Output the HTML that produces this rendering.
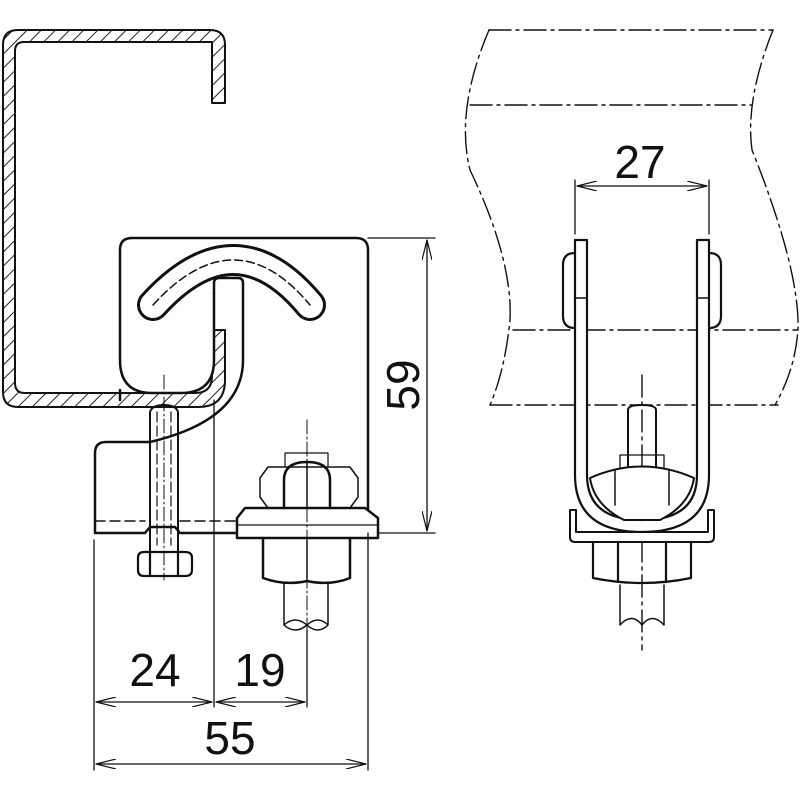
<!DOCTYPE html>
<html><head><style>body{margin:0;background:#fff}svg{display:block}text{font-family:"Liberation Sans",sans-serif;fill:#111}</style></head>
<body>
<svg width="800" height="800" viewBox="0 0 800 800" xmlns="http://www.w3.org/2000/svg">
<defs>
<pattern id="h" width="10" height="10" patternUnits="userSpaceOnUse" patternTransform="rotate(45)"><line x1="0" y1="0" x2="0" y2="10" stroke="#222" stroke-width="2"/></pattern>
<marker id="a" viewBox="0 0 20 10" refX="20" refY="5" markerWidth="20" markerHeight="10" markerUnits="userSpaceOnUse" orient="auto-start-reverse"><path d="M0,0 L20,5 L0,10" fill="none" stroke="#111" stroke-width="1.2"/></marker>
</defs>
<g fill="none" stroke="#111" stroke-linecap="round" stroke-linejoin="round">
<path d="M212,103 V42 Q212,42 200,42 H24 Q15,42 15,51 V383 Q15,393 25,393 H195 Q212,393 212,376 V330 H225 V380 Q225,407 198,407 H18 Q3,407 3,392 V45 Q3,30 18,30 H210 Q225,30 225,45 V103 Z" fill="url(#h)" stroke-width="2"/>
<path d="M214,293 V360 Q214,393 181,393 H152 Q120,393 120,360 V250 Q120,238 132,238 H356 Q368,238 368,250 V533" stroke-width="2.5" fill="#fff"/>
<path d="M120,390 V400" stroke-width="2.5"/>
<path d="M214,293 V283 Q214,278 219,278 H238 Q243,278 243,283 V360 Q243,420 150,442" stroke-width="2.5"/>
<path d="M153,305 Q235,215 310,305" stroke="#111" stroke-width="32"/>
<path d="M153,305 Q235,215 310,305" stroke="#fff" stroke-width="26"/>
<path d="M153,305 Q235,215 310,305" stroke="#111" stroke-width="1.5" stroke-dasharray="8 4"/>
<path d="M150,442 H106 Q95,442 95,453 V533 H145 L150,527 H175 L180,533 H238" stroke-width="2.5"/>
<path d="M95,521 H145 M180,521 H238" stroke-width="1.5" stroke-dasharray="10 5"/>
<path d="M150,412 V552 M178,412 V552 M150,412 Q152,405 164,405 Q176,405 178,412" stroke-width="2"/>
<path d="M157,412 V545 M171,412 V545" stroke-width="1.2" stroke-dasharray="10 4"/>
<path d="M138,558 Q138,552 144,552 H185 Q192,552 192,558 V570 Q192,576 185,576 H144 Q138,576 138,570 Z M150,552 V576 M178,552 V576" stroke-width="2.2"/>
<path d="M164,375 V580" stroke-width="1" stroke-dasharray="14 3 2 3"/>
<path d="M245,508 H365 L378,518 V538 H237 V518 Z" stroke-width="2.5" fill="#fff"/>
<path d="M237,525 H378" stroke-width="1.2"/>
<path d="M263,538 V578 Q285,586 307,581 Q330,586 350,578 V538" stroke-width="2.5"/>
<path d="M307,540 V582" stroke-width="1.5"/>
<path d="M260,478 L268,467 H350 L358,478 V497 L350,508 H268 L260,497 Z" stroke-width="1.5"/>
<path d="M284,508 V480 Q284,462 307,462 Q330,462 330,480 V508" stroke-width="2.5"/>
<path d="M307,462 V508" stroke-width="1.5"/>
<path d="M285,467 V453 H328 V467" stroke-width="1.2"/>
<path d="M284,583 V625 M328,583 V625 M284,625 Q295,615 307,625 Q318,615 328,625 M284,625 Q295,635 307,625 Q318,635 328,625" stroke-width="1.5"/>
<path d="M307,420 V640" stroke-width="1" stroke-dasharray="14 3 2 3"/>
<g stroke-width="1.3">
<path d="M368,238 H435 M378,533 H435"/>
<path d="M427,240 V531" marker-start="url(#a)" marker-end="url(#a)"/>
<path d="M94,540 V770 M214,400 V707 M307,630 V707 M368,533 V770"/>
<path d="M96,702 H212" marker-start="url(#a)" marker-end="url(#a)"/>
<path d="M216,702 H305" marker-start="url(#a)" marker-end="url(#a)"/>
<path d="M96,764 H366" marker-start="url(#a)" marker-end="url(#a)"/>
</g>
<g stroke-width="1.4" stroke-dasharray="22 5 3 5">
<path d="M489,30 H773"/>
<path d="M489,30 Q455,110 470,170 Q513,260 510,320 Q505,370 490,405"/>
<path d="M773,30 Q745,100 752,150 Q800,270 798,330 Q795,370 775,405"/>
<path d="M490,405 H778"/>
<path d="M470,105 H752"/>
<path d="M513,330 H798"/>
<path d="M642,375 V520 M642,540 V650"/>
</g>
<g stroke-width="1.3">
<path d="M575,180 V234 M709,180 V234"/>
<path d="M577,186 H707" marker-start="url(#a)" marker-end="url(#a)"/>
</g>
<path d="M575,240 V475 Q575,532 642,532 Q709,532 709,475 V240 H697 V475 Q697,520 642,520 Q587,520 587,475 V240 Z" stroke-width="2.2" fill="#fff"/>
<path d="M575,298 H587 M697,298 H709" stroke-width="1.5"/>
<path d="M575,253 Q563,253 563,265 V316 Q563,328 575,328 M709,253 Q721,253 721,265 V316 Q721,328 709,328" stroke-width="2.2"/>
<path d="M628,410 V472 M656,410 V472 M628,410 Q628,405 642,405 Q656,405 656,410" stroke-width="2"/>
<path d="M620,470 V455 H664 V470" stroke-width="1.3"/>
<path d="M590,478 Q642,455 694,478 Q690,505 660,520 H624 Q594,505 590,478 Z" stroke-width="2" fill="#fff"/>
<path d="M615,470 V505 M669,470 V505" stroke-width="1.5"/>
<path d="M570,510 V537 Q570,542 575,542 H709 Q714,542 714,537 V510 H708 V532 H576 V510 Z" stroke-width="2" fill="#fff"/>
<path d="M593,542 V578 Q642,588 691,578 V542 M618,542 V582 M666,542 V582" stroke-width="2.2"/>
<path d="M620,585 V625 M664,585 V625 M620,625 Q632,612 642,625 Q652,612 664,625" stroke-width="1.5"/>
</g>
<text x="155" y="686" font-size="46" text-anchor="middle">24</text>
<text x="260" y="686" font-size="46" text-anchor="middle">19</text>
<text x="230" y="754" font-size="46" text-anchor="middle">55</text>
<text x="640" y="178" font-size="46" text-anchor="middle">27</text>
<text transform="translate(419,385) rotate(-90)" font-size="46" text-anchor="middle">59</text>
</svg>
</body></html>
